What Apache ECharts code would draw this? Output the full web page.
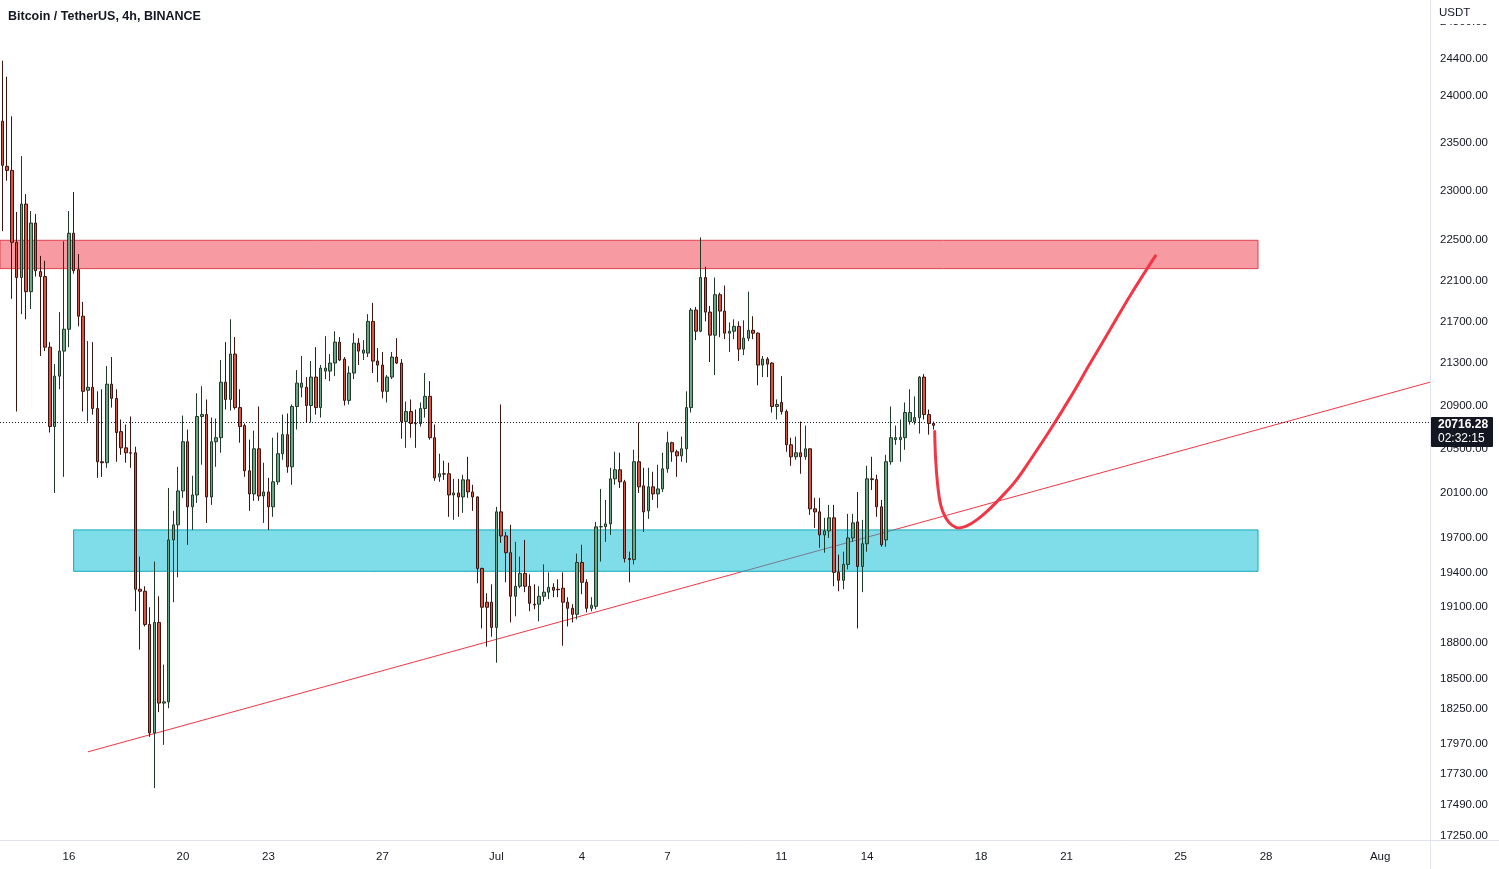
<!DOCTYPE html>
<html><head><meta charset="utf-8">
<script src="https://cdn.jsdelivr.net/npm/echarts@6/dist/echarts.min.js"></script>
<style>html,body{margin:0;padding:0;background:#fff}#c{width:1499px;height:869px}</style>
</head><body><div id="c"></div>
<script>
// ---------- DATA ----------
const firstCandleUTC = Date.UTC(2022, 5, 13, 16); // Jun 13 16:00, 4h candles
const categoryCount = 301;                          // candles + empty future slots
const opens = [
 23729,23255,23213,22480,22129,22867,21990,22674,22188,22139,
 21452,20705,21176,21414,21624,22571,22207,21750,21043,21071,
 20872,20382,20373,21100,20967,20658,20509,20464,20464,19254,
 19237,18954,18058,18971,18300,18310,19683,19816,20118,20565,
 19976,20082,20798,20816,20064,20565,20602,21119,20957,21386,
 20881,20714,20300,20091,20500,20073,20109,19976,20200,20455,
 20630,20336,20891,21071,21071,20900,21167,20881,21224,21224,
 21300,21500,21338,20948,21205,21490,21395,21395,21700,21319,
 21281,21033,21167,21357,21300,20751,20844,20733,20733,20872,
 20986,20602,20245,20273,20273,20082,20100,20064,20218,20109,
 20064,19434,19143,19143,18929,19931,19718,19571,19194,19280,
 19391,19280,19126,19126,19194,19229,19271,19254,19263,19143,
 19091,19040,19486,19314,19091,19108,19798,19800,19824,20227,
 20309,20200,19520,19511,20382,20164,19940,20155,20091,20136,
 20318,20556,20473,20436,20500,20881,21810,21605,22129,21790,
 21567,21960,21800,21586,21605,21652,21433,21538,21614,21586,
 21281,21338,21300,20891,20929,20844,20537,20427,20464,20427,
 20500,19958,19931,19727,19762,19878,19400,19331,19469,19700,
 19842,19451,19649,20227,20220,19976,19683,20382,20584,20584,
 20602,20751,20751,20788,21167,20816,20733];
const highs = [
 24378,24205,23781,22786,23362,22969,22796,22765,22344,22295,
 21500,21290,21790,22490,22796,22990,22363,21890,21510,21500,
 21033,21052,21271,21357,21052,20770,20723,20798,20519,19537,
 19280,19100,19494,19194,18617,20145,19940,20336,20807,20677,
 20255,21014,21081,20957,20788,20779,21329,21500,21720,21548,
 21052,20733,20584,20667,20891,20373,20236,20602,20649,20816,
 20826,20910,21233,21367,21167,21319,21452,21281,21557,21386,
 21605,21548,21357,21271,21586,21538,21519,21770,21880,21443,
 21405,21186,21405,21538,21338,20938,20957,20863,20929,21205,
 21129,20723,20455,20391,20373,20227,20227,20264,20427,20173,
 20070,19440,19220,19297,19976,20910,19753,19816,19666,19537,
 19683,19383,19297,19280,19469,19400,19306,19340,19400,19186,
 19126,19563,19640,19340,19186,19842,20136,20038,20327,20473,
 20464,20218,19580,20491,20742,20327,20327,20291,20355,20464,
 20658,20565,20491,20612,21033,21830,21840,22529,22236,21850,
 22129,21980,22050,21690,21720,21700,21710,21990,21750,21595,
 21367,21357,21310,20957,21176,20863,20602,20612,20751,20714,
 20505,20056,20056,19878,19993,19993,19554,19580,19913,19913,
 20109,19860,20345,20427,20264,20038,20445,20891,20714,20770,
 20929,21052,20986,21176,21195,20863,20751];
const lows = [
 22592,23106,21920,20844,21770,21720,21820,22139,21367,21414,
 20649,20100,21052,20245,21452,22168,21652,20844,20751,20816,
 20236,20245,20327,20881,20382,20445,20373,20327,19066,18742,
 18937,18026,17618,18226,17962,18258,19143,19357,20056,19640,
 19771,20011,20355,19833,19993,20336,20464,20863,20853,20863,
 20556,20245,19940,20029,20029,19833,19771,19887,20173,20400,
 20282,20173,20677,20976,20742,20742,20816,20788,21148,21129,
 21176,21319,20900,20910,21148,21281,21329,21357,21205,21119,
 20967,20929,21148,21290,20593,20509,20602,20509,20705,20788,
 20584,20209,20200,20218,19887,19860,19887,19922,20056,19940,
 19306,18920,18767,18851,18633,19657,19314,18971,19023,19263,
 19229,19066,19083,18980,19151,19169,19186,19186,18775,18937,
 18971,18997,19211,19057,19066,19083,19494,19666,19727,20173,
 20145,19486,19314,19469,20100,19753,19869,20038,19967,20109,
 20282,20382,20245,20382,20373,20835,21519,21595,21700,21310,
 21186,21548,21529,21405,21529,21319,21376,21510,21529,21090,
 21167,21167,20835,20770,20816,20473,20345,20400,20273,20400,
 19904,19789,19614,19571,19700,19280,19237,19254,19426,19666,
 18920,19229,19580,20127,19887,19623,19623,20355,20537,20382,
 20491,20723,20723,20640,20770,20630,20677];
const closes = [
 23266,23213,22480,22129,22867,21990,22674,22197,22139,21452,
 20705,21176,21414,21624,22571,22197,21750,21033,21071,20872,
 20382,20373,21100,20967,20649,20509,20464,20460,19254,19237,
 18954,18058,18971,18300,18310,19683,19816,20118,20565,19976,
 20082,20798,20816,20064,20565,20602,21119,20957,21386,20881,
 20705,20300,20091,20500,20073,20109,19976,20200,20455,20630,
 20336,20891,21110,21110,20900,21167,20881,21252,21252,21300,
 21500,21329,20948,21205,21490,21414,21424,21700,21319,21281,
 21033,21167,21357,21300,20751,20844,20733,20730,20872,20986,
 20602,20236,20273,20270,20082,20100,20064,20218,20109,20064,
 19434,19100,19100,18929,19931,19718,19571,19194,19280,19391,
 19280,19134,19120,19194,19229,19271,19246,19250,19143,19091,
 19040,19486,19314,19091,19117,19798,19800,19824,20227,20309,
 20200,19520,19511,20382,20155,19931,20155,20091,20136,20318,
 20556,20473,20436,20500,20881,21810,21605,22129,21790,21567,
 21960,21800,21586,21605,21652,21433,21538,21614,21586,21281,
 21338,21290,20891,20910,20844,20537,20427,20464,20427,20500,
 19958,19931,19727,19762,19878,19400,19331,19469,19700,19833,
 19451,19649,20227,20220,19976,19640,20382,20602,20602,20605,
 20835,20835,20788,21167,20816,20733,20716.28];

const priceTicks = [24800,24400,24000,23500,23000,22500,22100,21700,21300,20900,20500,
                    20100,19700,19400,19100,18800,18500,18250,17970,17730,17490,17250];
const priceAxisRange = [17215, 25048];
const dateTickDays = ['2022-06-16','2022-06-20','2022-06-23','2022-06-27','2022-07-01','2022-07-04',
                      '2022-07-07','2022-07-11','2022-07-14','2022-07-18','2022-07-21','2022-07-25',
                      '2022-07-28','2022-08-01'];
const dateTickLabels = ['16','20','23','27','Jul','4','7','11','14','18','21','25','28','Aug'];

const lastPrice = 20716.28;
const countdownText = '02:32:15';

// drawings (x in candle-index units, y in price)
const resistanceZone = {from: -0.5, to: 264.3, top: 22500, bottom: 22217};
const supportZone    = {from: 15,   to: 264.3, top: 19771, bottom: 19409};
const trendIdx   = [18.0, 300.5];
const trendPrice = [17906, 21119];
const curveIdx   = [196.24,196.45,196.87,197.5,198.55,199.8,201.3,203.0,205.1,207.6,210.1,213.3,216.4,220.6,224.8,229.0,233.2,237.5,242.7];
const curvePrice = [20658,20400,20173,19993,19878,19816,19789,19807,19860,19949,20056,20209,20400,20677,20976,21300,21624,21960,22344];

// ---------- BUILD ----------
function pad(n){return (n<10?'0':'')+n;}
const categories = [];
for (let i = 0; i < categoryCount; i++) {
  const d = new Date(firstCandleUTC + i * 4 * 3600e3);
  categories.push(d.getUTCFullYear()+'-'+pad(d.getUTCMonth()+1)+'-'+pad(d.getUTCDate())+' '+pad(d.getUTCHours())+':00');
}
const tickMap = {};
dateTickDays.forEach((d, j) => { tickMap[d + ' 00:00'] = dateTickLabels[j]; });

const L = Math.log;
const candleData = categories.map((c, i) => i < opens.length
  ? [L(opens[i]), L(closes[i]), L(lows[i]), L(highs[i])] : '-');

const chart = echarts.init(document.getElementById('c'), null, {renderer: 'canvas'});
const textColor = '#131722';
const option = {
  animation: false,
  backgroundColor: '#ffffff',
  textStyle: {fontFamily: '"Liberation Sans", Arial, sans-serif'},
  grid: {left: -2, right: 69, top: 0, bottom: 29, containLabel: false},
  xAxis: [{
    type: 'category', data: categories, boundaryGap: true,
    axisLine: {show: false}, axisTick: {show: false}, splitLine: {show: false},
    axisLabel: {
      interval: (idx, val) => tickMap[val] !== undefined,
      formatter: val => tickMap[val] || '',
      color: textColor, fontSize: 11.5, margin: 11
    }
  }, {
    type: 'value', min: -0.5, max: categoryCount - 0.5, show: false
  }],
  yAxis: {
    type: 'value', position: 'right', min: L(priceAxisRange[0]), max: L(priceAxisRange[1]),
    axisLine: {show: false}, axisTick: {show: false}, splitLine: {show: false},
    axisLabel: {
      customValues: priceTicks.map(L),
      formatter: v => Math.exp(v).toFixed(2),
      color: textColor, fontSize: 11.5, margin: 10, padding: [4, 0, 0, 0]
    }
  },
  series: [{
    type: 'line', name: 'trend', xAxisIndex: 1, z: 0, silent: true,
    data: trendIdx.map((x, i) => [x, L(trendPrice[i])]),
    showSymbol: false, symbol: 'none',
    lineStyle: {color: '#f23645', width: 1}
  }, {
    type: 'line', name: 'zones', xAxisIndex: 1, z: 1, silent: true,
    data: [[-10, L(20000)]], showSymbol: false, symbol: 'none', lineStyle: {opacity: 0},
    markArea: {
      silent: true, z: 1,
      data: [
        [{coord: [resistanceZone.from, L(resistanceZone.top)],
          itemStyle: {color: 'rgba(242,54,69,0.5)', borderColor: '#e0414f', borderWidth: 1}},
         {coord: [resistanceZone.to, L(resistanceZone.bottom)]}],
        [{coord: [supportZone.from, L(supportZone.top)],
          itemStyle: {color: 'rgba(0,188,212,0.5)', borderColor: '#13a9ba', borderWidth: 1}},
         {coord: [supportZone.to, L(supportZone.bottom)]}]
      ]
    }
  }, {
    type: 'candlestick', name: 'BTCUSDT', xAxisIndex: 0, z: 3,
    data: candleData, barWidth: 3,
    itemStyle: {color: '#6ba583', color0: '#d75442', borderColor: '#1f3a28', borderColor0: '#3d1410', borderWidth: 1},
    markLine: {
      silent: true, symbol: 'none', label: {show: false},
      lineStyle: {color: '#131722', type: [1, 2], width: 1},
      data: [{yAxis: L(lastPrice)}]
    }
  }, {
    type: 'line', name: 'projection', xAxisIndex: 1, z: 5, silent: true,
    data: curveIdx.map((x, i) => [x, L(curvePrice[i])]),
    smooth: 0.4, showSymbol: false, symbol: 'none',
    lineStyle: {color: '#f23645', width: 3, cap: 'round'}
  }]
};
chart.setOption(option);

const py = chart.convertToPixel({yAxisIndex: 0}, L(lastPrice));
chart.setOption({
  graphic: [
    {type: 'line', shape: {x1: 1430.5, y1: 0, x2: 1430.5, y2: 869}, style: {stroke: '#e0e3eb', lineWidth: 1}, z: 10},
    {type: 'line', shape: {x1: 0, y1: 840.5, x2: 1499, y2: 840.5}, style: {stroke: '#e0e3eb', lineWidth: 1}, z: 10},
    {type: 'rect', shape: {x: 1431, y: 0, width: 68, height: 24}, style: {fill: '#ffffff'}, z: 20},
    {type: 'text', x: 1439, y: 7, style: {text: 'USDT', fill: textColor, font: '11.5px "Liberation Sans", Arial, sans-serif'}, z: 21},
    {type: 'text', x: 8, y: 10, style: {text: 'Bitcoin / TetherUS, 4h, BINANCE', fill: textColor, font: 'bold 12.5px "Liberation Sans", Arial, sans-serif'}, z: 21},
    {type: 'rect', shape: {x: 1431, y: Math.round(py) - 8, width: 62, height: 30, r: 1}, style: {fill: '#131722'}, z: 20},
    {type: 'text', x: 1438, y: Math.round(py) - 6, style: {text: lastPrice.toFixed(2), fill: '#ffffff', font: 'bold 12px "Liberation Sans", Arial, sans-serif'}, z: 21},
    {type: 'text', x: 1438, y: Math.round(py) + 8, style: {text: countdownText, fill: '#ffffff', font: '12px "Liberation Sans", Arial, sans-serif'}, z: 21}
  ]
});
</script></body></html>
